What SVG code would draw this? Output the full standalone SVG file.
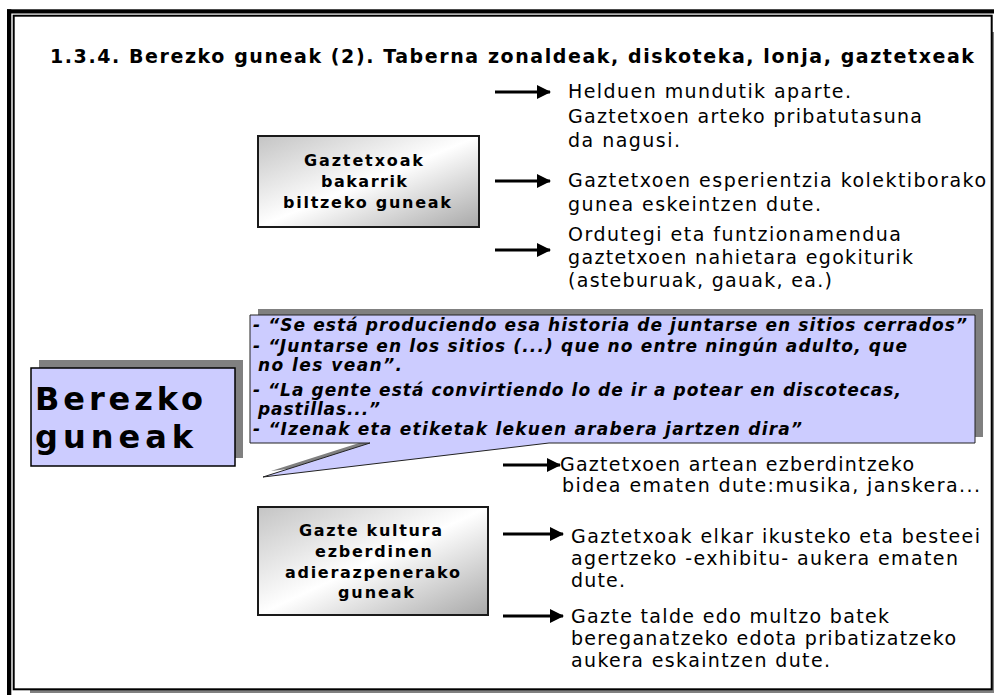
<svg xmlns="http://www.w3.org/2000/svg" width="994" height="695" viewBox="0 0 994 695">
<style>
.t{font-family:"DejaVu Sans",Verdana,sans-serif;fill:#000}
.title{font-size:19px;font-weight:bold}
.bx{font-size:16px;font-weight:bold}
.rt{font-size:19px}
.big{font-size:32px;font-weight:bold}
.q{font-size:17px;font-weight:bold;font-style:italic}
.gbox{fill:url(#gg);stroke:#1a1a1a;stroke-width:2}
.arr{stroke:#000;stroke-width:3;fill:none;marker-end:url(#ah)}
</style>
<defs>
<linearGradient id="gg" x1="0" y1="0" x2="1" y2="1">
<stop offset="0" stop-color="#c4c4c4"/>
<stop offset="0.5" stop-color="#ffffff"/>
<stop offset="1" stop-color="#a8a8a8"/>
</linearGradient>
<marker id="ah" markerUnits="userSpaceOnUse" markerWidth="14" markerHeight="14" refX="13" refY="7" orient="auto">
<path d="M0,0 L14,7 L0,14 Z" fill="#000"/>
</marker>
</defs>
<rect width="994" height="695" fill="#fff"/>
<g id="frame">
<rect x="7" y="9.3" width="987" height="4.2" fill="#000"/>
<rect x="7" y="9.3" width="4.3" height="686" fill="#000"/>
<rect x="30" y="32" width="964" height="661" fill="#808080"/>
<rect x="13.7" y="15.7" width="978" height="673.6" fill="#fff" stroke="#000" stroke-width="2"/>
</g>
<g id="title">
<text class="t title" x="50" y="63" textLength="924" lengthAdjust="spacing">1.3.4. Berezko guneak (2). Taberna zonaldeak, diskoteka, lonja, gaztetxeak</text>
</g>
<g id="connectors">
<line class="arr" x1="495" y1="92" x2="550" y2="92"/>
<line class="arr" x1="495" y1="181" x2="550" y2="181"/>
<line class="arr" x1="495" y1="250" x2="550" y2="250"/>
<line class="arr" x1="503" y1="465" x2="560" y2="465"/>
<line class="arr" x1="503" y1="534" x2="563" y2="534"/>
<line class="arr" x1="503" y1="616" x2="563" y2="616"/>
</g>
<g id="box-gaztetxoak">
<rect class="gbox" x="258" y="136" width="221" height="91"/>
<text class="t bx" x="304" y="166" textLength="119" lengthAdjust="spacing">Gaztetxoak</text>
<text class="t bx" x="321" y="187" textLength="86" lengthAdjust="spacing">bakarrik</text>
<text class="t bx" x="283" y="208" textLength="168" lengthAdjust="spacing">biltzeko guneak</text>
</g>
<g id="text-top-1">
<text class="t rt" x="568" y="98" textLength="283" lengthAdjust="spacing">Helduen mundutik aparte.</text>
<text class="t rt" x="568" y="123" textLength="354" lengthAdjust="spacing">Gaztetxoen arteko pribatutasuna</text>
<text class="t rt" x="568" y="147" textLength="112" lengthAdjust="spacing">da nagusi.</text>
</g>
<g id="text-top-2">
<text class="t rt" x="568" y="187" textLength="418" lengthAdjust="spacing">Gaztetxoen esperientzia kolektiborako</text>
<text class="t rt" x="568" y="211" textLength="253" lengthAdjust="spacing">gunea eskeintzen dute.</text>
</g>
<g id="text-top-3">
<text class="t rt" x="568" y="241" textLength="333" lengthAdjust="spacing">Ordutegi eta funtzionamendua</text>
<text class="t rt" x="568" y="264" textLength="345" lengthAdjust="spacing">gaztetxoen nahietara egokiturik</text>
<text class="t rt" x="568" y="287" textLength="264" lengthAdjust="spacing">(asteburuak, gauak, ea.)</text>
</g>
<g id="box-berezko">
<rect x="39" y="360" width="204" height="98" fill="#808080"/>
<rect x="31" y="368" width="204" height="98" fill="#ccccff" stroke="#000" stroke-width="1.5"/>
<text class="t big" x="35" y="410" textLength="168" lengthAdjust="spacing">Berezko</text>
<text class="t big" x="35" y="448" textLength="158" lengthAdjust="spacing">guneak</text>
</g>
<g id="callout">
<path d="M250,315 H975 V443 H549 L263,477 L370,443 H250 Z" fill="#808080" transform="translate(8,-6)"/>
<path d="M250,315 H975 V443 H549 L263,477 L370,443 H250 Z" fill="#ccccff" stroke="#222" stroke-width="1"/>
<text class="t q" x="253" y="331" textLength="714" lengthAdjust="spacing">- “Se está produciendo esa historia de juntarse en sitios cerrados”</text>
<text class="t q" x="253" y="352" textLength="654" lengthAdjust="spacing">- “Juntarse en los sitios (...) que no entre ningún adulto, que</text>
<text class="t q" x="258" y="371" textLength="144" lengthAdjust="spacing">no les vean”.</text>
<text class="t q" x="253" y="396" textLength="648" lengthAdjust="spacing">- “La gente está convirtiendo lo de ir a potear en discotecas,</text>
<text class="t q" x="258" y="415" textLength="122" lengthAdjust="spacing">pastillas...”</text>
<text class="t q" x="253" y="435" textLength="549" lengthAdjust="spacing">- “Izenak eta etiketak lekuen arabera jartzen dira”</text>
</g>
<g id="box-gazte-kultura">
<rect class="gbox" x="258" y="507" width="230" height="108"/>
<text class="t bx" x="299" y="536" textLength="143" lengthAdjust="spacing">Gazte kultura</text>
<text class="t bx" x="315" y="557" textLength="117" lengthAdjust="spacing">ezberdinen</text>
<text class="t bx" x="285" y="578" textLength="175" lengthAdjust="spacing">adierazpenerako</text>
<text class="t bx" x="338" y="598" textLength="76" lengthAdjust="spacing">guneak</text>
</g>
<g id="text-bottom-1">
<text class="t rt" x="560" y="471" textLength="354" lengthAdjust="spacing">Gaztetxoen artean ezberdintzeko</text>
<text class="t rt" x="562" y="492" textLength="418" lengthAdjust="spacing">bidea ematen dute:musika, janskera...</text>
</g>
<g id="text-bottom-2">
<text class="t rt" x="571" y="543" textLength="409" lengthAdjust="spacing">Gaztetxoak elkar ikusteko eta besteei</text>
<text class="t rt" x="571" y="565" textLength="387" lengthAdjust="spacing">agertzeko -exhibitu- aukera ematen</text>
<text class="t rt" x="571" y="587" textLength="54" lengthAdjust="spacing">dute.</text>
</g>
<g id="text-bottom-3">
<text class="t rt" x="571" y="623" textLength="318" lengthAdjust="spacing">Gazte talde edo multzo batek</text>
<text class="t rt" x="571" y="645" textLength="385" lengthAdjust="spacing">bereganatzeko edota pribatizatzeko</text>
<text class="t rt" x="571" y="667" textLength="259" lengthAdjust="spacing">aukera eskaintzen dute.</text>
</g>
</svg>
